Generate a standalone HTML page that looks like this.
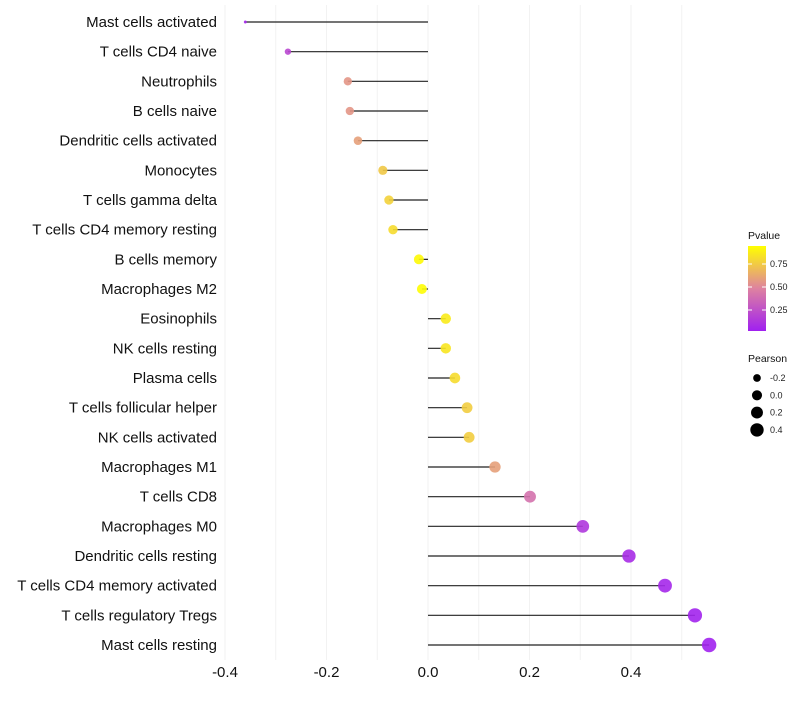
<!DOCTYPE html>
<html><head><meta charset="utf-8"><style>
body{margin:0;background:#fff;font-family:"Liberation Sans",sans-serif}
</style></head><body>
<svg id="chart" width="800" height="700" xmlns="http://www.w3.org/2000/svg" font-family="Liberation Sans, sans-serif"></svg>
<script>
const categories=["Mast cells activated","T cells CD4 naive","Neutrophils","B cells naive","Dendritic cells activated","Monocytes","T cells gamma delta","T cells CD4 memory resting","B cells memory","Macrophages M2","Eosinophils","NK cells resting","Plasma cells","T cells follicular helper","NK cells activated","Macrophages M1","T cells CD8","Macrophages M0","Dendritic cells resting","T cells CD4 memory activated","T cells regulatory  Tregs ","Mast cells resting"];
const pearson=[-0.36,-0.276,-0.158,-0.154,-0.138,-0.089,-0.077,-0.069,-0.018,-0.012,0.035,0.035,0.053,0.077,0.081,0.132,0.201,0.305,0.396,0.467,0.526,0.554];
const pvalue=[0.03,0.2,0.58,0.58,0.62,0.78,0.82,0.86,0.98,0.99,0.92,0.9,0.86,0.8,0.8,0.62,0.42,0.12,0.06,0.04,0.02,0.01];
const xTicks=[-0.4,-0.2,0,0.2,0.4];
const xTickLabels=["-0.4","-0.2","0.0","0.2","0.4"];
const gridVals=[-0.4,-0.3,-0.2,-0.1,0,0.1,0.2,0.3,0.4,0.5];
const pTicks=[0.25,0.5,0.75];
const pTickLabels=["0.25","0.50","0.75"];
const sizeVals=[-0.2,0,0.2,0.4];
const sizeLabels=["-0.2","0.0","0.2","0.4"];

const svg=document.getElementById('chart');
const NS="http://www.w3.org/2000/svg";
function el(t,a,p){const e=document.createElementNS(NS,t);for(const k in a)e.setAttribute(k,a[k]);(p||svg).appendChild(e);return e;}
const x=v=>428+v*507.5;
const y=i=>22+i*(623/(categories.length-1));
const pmin=Math.min(...pearson),pmax=Math.max(...pearson);
const r=v=>{const f=Math.max(0,Math.min(1,(v-pmin)/(pmax-pmin)));return (1+5*Math.sqrt(f))*1.15+0.3;};
function color(p){
  const s=[[160,32,240],[222,130,160],[255,255,0]];
  let a,b,t;if(p<0.5){a=s[0];b=s[1];t=p/0.5}else{a=s[1];b=s[2];t=(p-0.5)/0.5}
  return `rgb(${a.map((c,i)=>Math.round(c+(b[i]-c)*t)).join(',')})`;
}
gridVals.forEach(v=>{
  const g=el('line',{x1:x(v),x2:x(v),y1:5,y2:660,stroke:'#f2f2f2','stroke-width':1});
  
  
});
categories.forEach((c,i)=>{
  const t=el('text',{x:217,y:y(i)+5,'text-anchor':'end','font-size':15,fill:'#111'});t.textContent=c;
  
  
  const l=el('line',{x1:x(0),x2:x(pearson[i]),y1:y(i),y2:y(i),stroke:'#222','stroke-width':1.2});
  
  
  const d=el('circle',{cx:x(pearson[i]),cy:y(i),r:r(pearson[i]),fill:color(pvalue[i]),'fill-opacity':0.9});
  
  
});
xTicks.forEach((v,i)=>{
  const t=el('text',{x:x(v),y:677,'text-anchor':'middle','font-size':15,fill:'#111'});t.textContent=xTickLabels[i];
  
  
});
const lt=el('text',{x:748,y:239,'font-size':10.5,fill:'#111'});lt.textContent='Pvalue';


const defs=el('defs',{});const gr=el('linearGradient',{id:'pg',x1:0,y1:1,x2:0,y2:0},defs);
[0,0.25,0.5,0.75,1].forEach(p=>el('stop',{offset:p,'stop-color':color(p)},gr));
const gb=el('rect',{x:748,y:246,width:18,height:85,fill:'url(#pg)'});


const py=p=>333-p*92;
pTicks.forEach((p,i)=>{
  el('line',{x1:748,x2:752,y1:py(p),y2:py(p),stroke:'#fff'});el('line',{x1:762,x2:766,y1:py(p),y2:py(p),stroke:'#fff'});
  const t=el('text',{x:770,y:py(p)+3,'font-size':9,fill:'#222'});t.textContent=pTickLabels[i];
  
  
});
const st=el('text',{x:748,y:362,'font-size':10.5,fill:'#111'});st.textContent='Pearson';


sizeVals.forEach((v,i)=>{
  const cy=378+i*17.3;
  const c=el('circle',{cx:757,cy:cy,r:r(v),fill:'#000'});
  
  
  const t=el('text',{x:770,y:cy+3,'font-size':9,fill:'#222'});t.textContent=sizeLabels[i];
  
  
});
</script>
</body></html>
